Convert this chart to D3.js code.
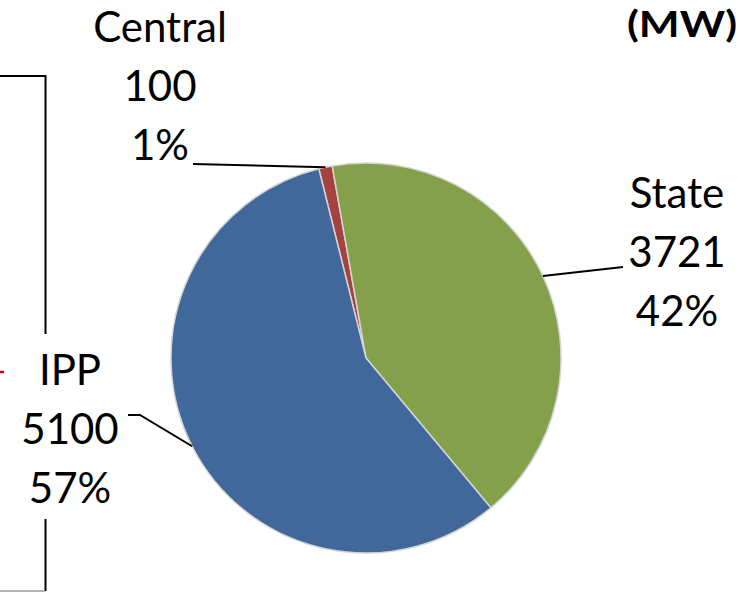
<!DOCTYPE html>
<html><head><meta charset="utf-8">
<script src="https://cdn.jsdelivr.net/npm/d3@7"></script>
<style>html,body{margin:0;padding:0;background:#fff;}svg{display:block;}</style>
</head><body>
<script>
const categories = ["Central", "State", "IPP"];
const values = [100, 3721, 5100];
const titleText = "(MW)";

const W = 740, H = 592;
const colors = {Central: "#A5413F", State: "#85A04B", IPP: "#41689A"};
const cx = 366, cy = 358, R = 195;
const startDeg = -14;
const font = "Lato, 'Open Sans', sans-serif";
const fs = 42;

const svg = d3.select("body").append("svg").attr("width", W).attr("height", H);

// bracket / border remnants
const g0 = svg.append("g").attr("fill", "none");
g0.append("path").attr("d", "M0,76H45.5V334").attr("stroke", "#000").attr("stroke-width", 2);
g0.append("path").attr("d", "M45.5,519V591").attr("stroke", "#000").attr("stroke-width", 2);
g0.append("path").attr("d", "M0,591H45").attr("stroke", "#999").attr("stroke-width", 1.5);
g0.append("path").attr("d", "M0,372H4").attr("stroke", "#d00000").attr("stroke-width", 2.5);

// title
svg.append("text").attr("x", 627).attr("y", 37).attr("font-family", font)
  .attr("font-weight", "bold").attr("font-size", 37).attr("fill", "#000")
  .attr("textLength", 110).attr("lengthAdjust", "spacingAndGlyphs").text(titleText);

const data = categories.map((c, i) => ({cat: c, value: values[i]}));
const total = d3.sum(values);
const pie = d3.pie().sort(null).value(d => d.value)
  .startAngle(startDeg * Math.PI / 180).endAngle(startDeg * Math.PI / 180 + 2 * Math.PI);
const arcs = pie(data);
const arc = d3.arc().innerRadius(0).outerRadius(R);

const g = svg.append("g").attr("transform", `translate(${cx},${cy})`);
g.selectAll("path.slice").data(arcs).join("path").attr("class", "slice")
  .attr("d", arc).attr("fill", d => colors[d.data.cat])
  .attr("stroke", "#d4d4d4").attr("stroke-width", 1.5).attr("stroke-linejoin", "round");

// labels
const pct = d3.format(".0%");
const labelPos = {
  Central: {x: 160, y: 42, line: [[193, 164]]},
  State:   {x: 677, y: 208, line: [[623, 267]]},
  IPP:     {x: 70,  y: 385, line: [[128, 415], [140, 415]]}
};
const lineH = 59;
arcs.forEach(a => {
  const p = labelPos[a.data.cat];
  const t = svg.append("text").attr("font-family", font).attr("font-size", fs)
    .attr("fill", "#000").attr("text-anchor", "middle");
  [a.data.cat, String(a.data.value), pct(a.data.value / total)].forEach((s, i) => {
    t.append("tspan").attr("x", p.x).attr("y", p.y + i * lineH).text(s);
  });
  const mid = (a.startAngle + a.endAngle) / 2;
  const ex = cx + R * Math.sin(mid), ey = cy - R * Math.cos(mid);
  const pts = p.line.concat([[ex, ey]]);
  svg.append("path").attr("d", d3.line()(pts)).attr("fill", "none")
    .attr("stroke", "#000").attr("stroke-width", 2);
});
</script>
</body></html>
